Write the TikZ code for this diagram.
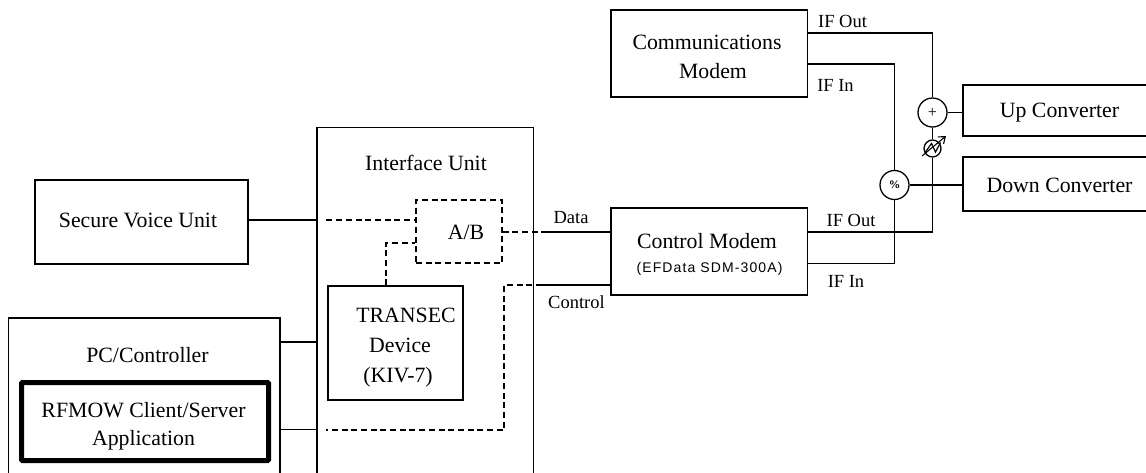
\documentclass[tikz,border=0pt]{standalone}
\usepackage{fontspec}
\setmainfont{Liberation Serif}
\setsansfont{Liberation Sans}
\usetikzlibrary{calc}
\usetikzlibrary{positioning}
\usetikzlibrary{arrows.meta}

\begin{document}
\begin{tikzpicture}[
    x=1pt, y=-1pt,
    font=\fontsize{21.8}{29}\selectfont,
    box/.style={draw, line width=1.1pt, align=center, inner sep=0pt},
    txt/.style={align=center, inner sep=0pt},
    wire/.style={draw, line width=1.1pt},
    dashwire/.style={draw, line width=1.3pt, dash pattern=on 6pt off 3.7pt},
    lab/.style={font=\fontsize{18.5}{20}\selectfont, inner sep=0pt},
    sum/.style={draw, circle, line width=1.3pt, minimum size=29pt, inner sep=0pt}
]
\clip (0,0) rectangle (1146,472);

% Left side boxes
\node[box, minimum width=213pt, minimum height=84pt] (voice) at (141.5,222) {};
\node[txt] (voicelab) at (138,220) {Secure Voice Unit};
\node[box, minimum width=271.5pt, minimum height=160pt] (pc) at (144.25,398) {};
\node[txt] (pclab) at (147.5,355) {PC/Controller};
\node[box, line width=5pt, minimum width=247pt, minimum height=78pt, rounded corners=1pt] (app) at (145,421.5) {};
\node[txt, font=\fontsize{21.8}{28}\selectfont] (applab) at (143.5,426) {RFMOW Client/Server\\Application};

% Interface unit and what sits in it
\node[box, minimum width=216.5pt, minimum height=380pt] (iface) at (425.25,317.5) {};
\node[txt] (ifacelab) at (426,163) {Interface Unit};
\node[box, dashwire, minimum width=86pt, minimum height=63pt] (ab) at (459,231.5) {};
\node[txt] (ablab) at (466,232) {A/B};
\node[box, line width=1.2pt, minimum width=135pt, minimum height=114pt] (transec) at (395.5,343) {};
\node[txt, font=\fontsize{21.8}{30}\selectfont] (transeclab) at (395.5,348) {\hspace*{21pt}TRANSEC\\\hspace*{9pt}Device\\\hspace*{5pt}(KIV-7)};

% Modems
\node[box, minimum width=196.5pt, minimum height=87pt] (comm) at (709.25,53.5) {};
\node[txt] (commlab) at (710,56.5) {Communications\hspace*{6pt}\\\hspace*{6pt}Modem};
\node[box, minimum width=196.5pt, minimum height=87pt] (ctrl) at (709.25,251.5) {};
\node[txt] (ctrllab) at (707,241) {Control Modem};
\node[txt, font=\sffamily\fontsize{14}{16}\selectfont\addfontfeature{LetterSpace=8}] (ctrlsub) at (709.5,269) {(EFData SDM-300A)};

% Converters
\node[box, minimum width=187pt, minimum height=51pt] (up) at (1056.5,110.5) {};
\node[txt] (uplab) at (1059.5,113) {Up Converter};
\node[box, minimum width=187pt, minimum height=54pt] (down) at (1056.5,184) {};
\node[txt] (downlab) at (1059.5,185) {Down Converter};

% Combiner, splitter, tuned source
\node[sum, font=\fontsize{16}{16}\selectfont] (adder) at (932.5,112.5) {+};
\node[sum, font=\fontsize{11.5}{11.5}\selectfont\bfseries] (split) at (894.5,185) {\%};
\node[draw, circle, line width=1.3pt, minimum size=17pt, inner sep=0pt] (osc) at (932.5,148.5) {};

% Ports that sit off centre
\coordinate (ifaceL1) at (iface.west |- 0,220);
\coordinate (ifaceL2) at (iface.west |- 0,342);
\coordinate (ifaceL3) at (iface.west |- 0,429.5);
\coordinate (dataport) at (542,232);
\coordinate (ctrlport) at (542,285);

% Solid wires
\draw[wire] (voice.east |- ifaceL1) -- (ifaceL1);
\draw[wire] (pc.east |- ifaceL2) -- (ifaceL2);
\draw[wire] (pc.east |- ifaceL3) -- (ifaceL3);
\draw[wire] (dataport) -- (ctrl.west |- dataport);
\draw[wire] (ctrlport) -- (ctrl.west |- ctrlport);
\draw[wire] (comm.east |- 0,33) -| (adder.north);
\draw[wire] (comm.east |- 0,64) -| (split.north);
\draw[wire] (adder.south) -- (osc.north);
\draw[wire] (osc.south) |- (ctrl.east |- 0,232);
\draw[wire] (split.south) |- (ctrl.east |- 0,263.5);
\draw[wire] (adder.east) -- (up.west |- adder.east);
\draw[wire] (split.east) -- (down.west |- split.east);

% Dashed wires
\draw[dashwire] (ifaceL1) ++(10,0) -- (ab.west |- ifaceL1);
\draw[dashwire] (ab.east |- dataport) -- (dataport);
\draw[dashwire] (transec.north -| 386,0) |- (ab.west |- 0,243);
\draw[dashwire] (ctrlport) -- (504,285) |- ($(ifaceL3)+(10,0.5)$);

% Tuning arrow and wave on the source
\draw[line width=1.1pt, -{Straight Barb[length=6pt, width=9pt]}] ($(osc.center)+(-10.5,7.5)$) -- ($(osc.center)+(13.5,-12.5)$);
\draw[line width=1.2pt] ($(osc.center)+(-7,3.5)$) -- ($(osc.center)+(-1,-5)$) -- ($(osc.center)+(3,3.5)$) -- ($(osc.center)+(8,-6)$);

% Wire labels
\node[lab] (ifout1) at (842.5,21) {IF Out};
\node[lab] (ifin1) at (835.5,85) {IF In};
\node[lab] (data) at (571,218) {Data};
\node[lab] (control) at (576.5,302) {Control};
\node[lab] (ifout2) at (851,220) {IF Out};
\node[lab] (ifin2) at (846,281) {IF In};
\end{tikzpicture}
\end{document}
